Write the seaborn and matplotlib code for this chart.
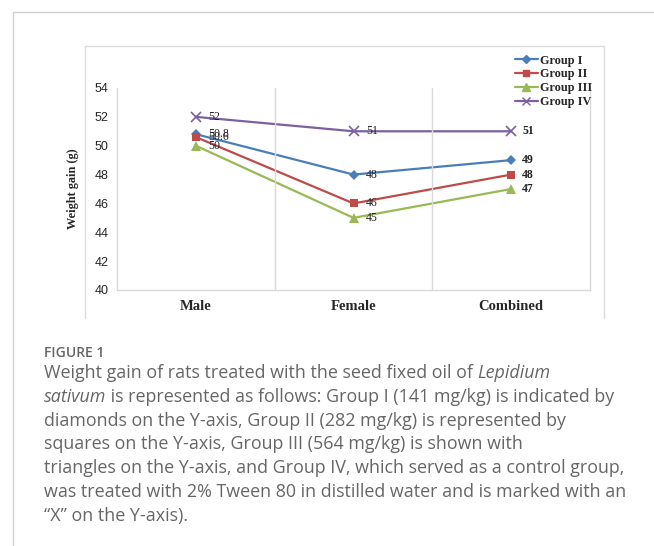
import matplotlib
matplotlib.use("Agg")
import matplotlib.pyplot as plt
from matplotlib.lines import Line2D
import seaborn as sns
import pandas as pd

categories = ["Male", "Female", "Combined"]
groups = ["Group I", "Group II", "Group III", "Group IV"]
group_i = [50.8, 48, 49]
group_ii = [50.6, 46, 48]
group_iii = [50, 45, 47]
group_iv = [52, 51, 51]
label_text = {
    "Group I": ["50.8", "48", "49"],
    "Group II": ["50.6", "46", "48"],
    "Group III": ["50", "45", "47"],
    "Group IV": ["52", "51", "51"],
}
y_ticks = [40, 42, 44, 46, 48, 50, 52, 54]

values = {"Group I": group_i, "Group II": group_ii, "Group III": group_iii, "Group IV": group_iv}
rows = []
for g in groups:
    for c, v in zip(categories, values[g]):
        rows.append({"sex": c, "gain": v, "group": g})
df = pd.DataFrame(rows)

colors = {"Group I": "#4a7ebb", "Group II": "#be4b48", "Group III": "#98b954", "Group IV": "#7d60a0"}
markers = {"Group I": "D", "Group II": "s", "Group III": "^", "Group IV": "x"}
msizes = {"Group I": 5, "Group II": 6, "Group III": 7, "Group IV": 7}

sns.set_style("white")
W, H = 654, 546
fig = plt.figure(figsize=(W / 100, H / 100), dpi=100)

def fx(px):
    return px / W

def fy(py):
    return 1 - py / H

ax = fig.add_axes([fx(117), fy(290), fx(590) - fx(117), fy(88) - fy(290)])

for g in groups:
    sub = df[df["group"] == g]
    sns.lineplot(data=sub, x="sex", y="gain", ax=ax, color=colors[g], marker=markers[g],
                 markersize=msizes[g], markeredgecolor=colors[g], markeredgewidth=1.2 if g == "Group IV" else 0,
                 linewidth=1.6, label=g, legend=False, sort=False)

ax.set_xlim(-0.5, 2.5)
ax.set_ylim(40, 54)
ax.set_yticks(y_ticks)
ax.set_yticklabels([str(t) for t in y_ticks], fontfamily="Liberation Sans", fontsize=9)
ax.set_xticks(range(len(categories)))
ax.set_xticklabels(categories, fontfamily="Liberation Serif", fontweight="bold", fontsize=10.5)
ax.tick_params(axis="both", length=0, pad=6)
ax.tick_params(axis="x", pad=7)
ax.set_xlabel("")
ax.set_ylabel("Weight gain (g)", fontfamily="Liberation Serif", fontweight="bold", fontsize=8.8, labelpad=11)
for x in [0.5, 1.5]:
    ax.axvline(x, color="#d9d9d9", linewidth=1)
for side in ["top"]:
    ax.spines[side].set_visible(False)
for side in ["left", "bottom", "right"]:
    ax.spines[side].set_color("#d9d9d9")
    ax.spines[side].set_linewidth(1)

# data labels
for g in groups:
    for i, c in enumerate(categories):
        v = values[g][i]
        dx = 9 if i < 2 else 8
        ax.annotate(label_text[g][i], (i, v), xytext=(dx, 0), textcoords="offset points",
                    va="center", ha="left", fontfamily="Liberation Serif",
                    fontweight="bold" if i == 2 else "normal", fontsize=8.5, color="#222222")

# legend
handles = [Line2D([0], [0], color=colors[g], marker=markers[g], markersize=msizes[g] - 1,
                  markeredgecolor=colors[g], linewidth=1.6) for g in groups]
fig.legend(handles, groups, loc="upper left", bbox_to_anchor=(fx(506), fy(46)), frameon=False,
           prop={"family": "Liberation Serif", "weight": "bold", "size": 8.8},
           handlelength=1.9, handletextpad=0.15, labelspacing=0.15, borderpad=0.2)

# chart box
box_c = "#dcdcdc"
fig.add_artist(Line2D([fx(85), fx(604)], [fy(46), fy(46)], color=box_c, linewidth=1))
fig.add_artist(Line2D([fx(85), fx(85)], [fy(46), fy(318)], color=box_c, linewidth=1))
fig.add_artist(Line2D([fx(604), fx(604)], [fy(46), fy(318)], color=box_c, linewidth=1))

# page lines
page_c = "#cfcfcf"
fig.add_artist(Line2D([fx(13), fx(13)], [fy(12), 0], color=page_c, linewidth=1))
fig.add_artist(Line2D([fx(13), 1], [fy(12), fy(12)], color=page_c, linewidth=1))

# caption
cap_color = "#666666"
fig.text(fx(44), fy(353), "FIGURE 1", fontfamily="Open Sans", fontweight="semibold",
         fontsize=10, color=cap_color, va="center")

lines = [
    [("Weight gain of rats treated with the seed fixed oil of ", "normal"), ("Lepidium", "italic")],
    [("sativum", "italic"), (" is represented as follows: Group I (141 mg/kg) is indicated by", "normal")],
    [("diamonds on the Y-axis, Group II (282 mg/kg) is represented by", "normal")],
    [("squares on the Y-axis, Group III (564 mg/kg) is shown with", "normal")],
    [("triangles on the Y-axis, and Group IV, which served as a control group,", "normal")],
    [("was treated with 2% Tween 80 in distilled water and is marked with an", "normal")],
    [("\u201cX\u201d on the Y-axis).", "normal")],
]
fig.canvas.draw()
renderer = fig.canvas.get_renderer()
y0 = 373
for k, parts in enumerate(lines):
    xpix = 44
    ypix = y0 + k * 23.8
    for txt, style in parts:
        t = fig.text(fx(xpix), fy(ypix), txt, fontfamily="Open Sans", fontsize=12.9,
                     style=style, color=cap_color, va="center", ha="left")
        bb = t.get_window_extent(renderer=renderer)
        xpix += bb.width

fig.savefig("out.png", dpi=100)
